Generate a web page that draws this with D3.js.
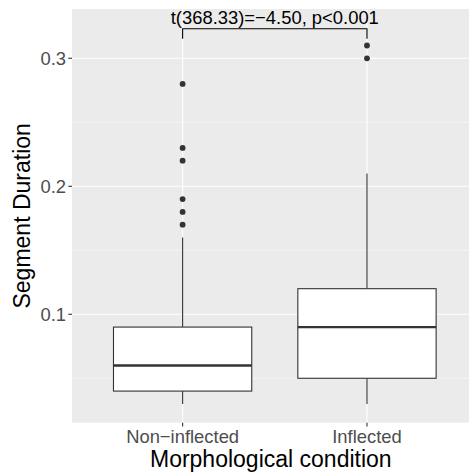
<!DOCTYPE html>
<html lang="en">
<head>
  <meta charset="UTF-8" />
  <title>Segment Duration by Morphological condition</title>
  <script src="https://d3js.org/d3.v7.min.js"></script>
  <style>
    html, body { margin: 0; padding: 0; background: #fff; }
    svg text { font-family: "Liberation Sans", Arial, Helvetica, sans-serif; }
  </style>
</head>
<body>
<div id="chart"></div>
<script>
// categories and box stats
const categories = ["Non\u2212inflected", "Inflected"];
const lowerWhisker = [0.03, 0.03];
const q1 = [0.04, 0.05];
const median = [0.06, 0.09];
const q3 = [0.09, 0.12];
const upperWhisker = [0.16, 0.21];
const outliers = [
  [0.17, 0.18, 0.19, 0.22, 0.23, 0.28],
  [0.30, 0.31]
];
const yTicks = [0.1, 0.2, 0.3];
const yMinor = [0.05, 0.15, 0.25];
const annotation = "t(368.33)=\u22124.50, p<0.001";

const W = 469, H = 475;
const panel = { left: 72, right: 477.6, top: 9, bottom: 422.7 };

const svg = d3.select("#chart").append("svg")
  .attr("width", W).attr("height", H);

const x = d3.scalePoint()
  .domain(categories)
  .range([panel.left, panel.right])
  .padding(0.6);

const y = d3.scaleLinear()
  .domain([0.0153, 0.3385])
  .range([panel.bottom, panel.top]);

const boxW = x.step() * 0.75;
const dark = "#333333";

// panel background
svg.append("rect")
  .attr("x", panel.left).attr("y", panel.top)
  .attr("width", panel.right - panel.left)
  .attr("height", panel.bottom - panel.top)
  .attr("fill", "#EBEBEB");

// grid lines
svg.selectAll(".minor").data(yMinor).enter().append("line")
  .attr("x1", panel.left).attr("x2", panel.right)
  .attr("y1", d => y(d)).attr("y2", d => y(d))
  .attr("stroke", "#fff").attr("stroke-width", 0.55);
svg.selectAll(".major").data(yTicks).enter().append("line")
  .attr("x1", panel.left).attr("x2", panel.right)
  .attr("y1", d => y(d)).attr("y2", d => y(d))
  .attr("stroke", "#fff").attr("stroke-width", 1.1);
svg.selectAll(".vmajor").data(categories).enter().append("line")
  .attr("x1", d => x(d)).attr("x2", d => x(d))
  .attr("y1", panel.top).attr("y2", panel.bottom)
  .attr("stroke", "#fff").attr("stroke-width", 1.1);

// boxes
const g = svg.selectAll(".box").data(categories).enter().append("g");

g.append("line") // upper whisker
  .attr("x1", d => x(d)).attr("x2", d => x(d))
  .attr("y1", (d, i) => y(q3[i])).attr("y2", (d, i) => y(upperWhisker[i]))
  .attr("stroke", dark).attr("stroke-width", 1.1);
g.append("line") // lower whisker
  .attr("x1", d => x(d)).attr("x2", d => x(d))
  .attr("y1", (d, i) => y(q1[i])).attr("y2", (d, i) => y(lowerWhisker[i]))
  .attr("stroke", dark).attr("stroke-width", 1.1);
g.append("rect")
  .attr("x", d => x(d) - boxW / 2)
  .attr("y", (d, i) => y(q3[i]))
  .attr("width", boxW)
  .attr("height", (d, i) => y(q1[i]) - y(q3[i]))
  .attr("fill", "#fff").attr("stroke", dark).attr("stroke-width", 1.1);
g.append("line") // median
  .attr("x1", d => x(d) - boxW / 2).attr("x2", d => x(d) + boxW / 2)
  .attr("y1", (d, i) => y(median[i])).attr("y2", (d, i) => y(median[i]))
  .attr("stroke", dark).attr("stroke-width", 2.3);

// outliers
categories.forEach((c, i) => {
  svg.selectAll(".out" + i).data(outliers[i]).enter().append("circle")
    .attr("cx", x(c)).attr("cy", d => y(d))
    .attr("r", 2.9).attr("fill", dark);
});

// significance bracket
const xa = x(categories[0]), xb = x(categories[1]);
svg.append("path")
  .attr("d", `M${xa},38.7V28.7H${xb}V38.7`)
  .attr("fill", "none").attr("stroke", "#000").attr("stroke-width", 1.1);
svg.append("text")
  .attr("x", (xa + xb) / 2).attr("y", 24)
  .attr("text-anchor", "middle")
  .attr("font-size", "18.4px").attr("fill", "#000")
  .text(annotation);

// y axis
svg.selectAll(".ytick").data(yTicks).enter().append("line")
  .attr("x1", panel.left - 3.7).attr("x2", panel.left)
  .attr("y1", d => y(d)).attr("y2", d => y(d))
  .attr("stroke", dark).attr("stroke-width", 1.1);
svg.selectAll(".ylab").data(yTicks).enter().append("text")
  .attr("x", panel.left - 6).attr("y", d => y(d))
  .attr("dy", "0.35em")
  .attr("text-anchor", "end")
  .attr("font-size", "18.4px").attr("fill", "#4D4D4D")
  .text(d3.format(".1f"));

// x axis
svg.selectAll(".xtick").data(categories).enter().append("line")
  .attr("x1", d => x(d)).attr("x2", d => x(d))
  .attr("y1", panel.bottom).attr("y2", panel.bottom + 3.7)
  .attr("stroke", dark).attr("stroke-width", 1.1);
svg.selectAll(".xlab").data(categories).enter().append("text")
  .attr("x", d => x(d)).attr("y", 442.7)
  .attr("text-anchor", "middle")
  .attr("font-size", "18.4px").attr("fill", "#4D4D4D")
  .text(d => d);

// axis titles
svg.append("text")
  .attr("x", (panel.left + panel.right) / 2 - 4).attr("y", 467)
  .attr("text-anchor", "middle")
  .attr("font-size", "23px").attr("fill", "#000")
  .text("Morphological condition");
svg.append("text")
  .attr("transform", `translate(30,${(panel.top + panel.bottom) / 2}) rotate(-90)`)
  .attr("text-anchor", "middle")
  .attr("font-size", "23px").attr("fill", "#000")
  .text("Segment Duration");
</script>
</body>
</html>
